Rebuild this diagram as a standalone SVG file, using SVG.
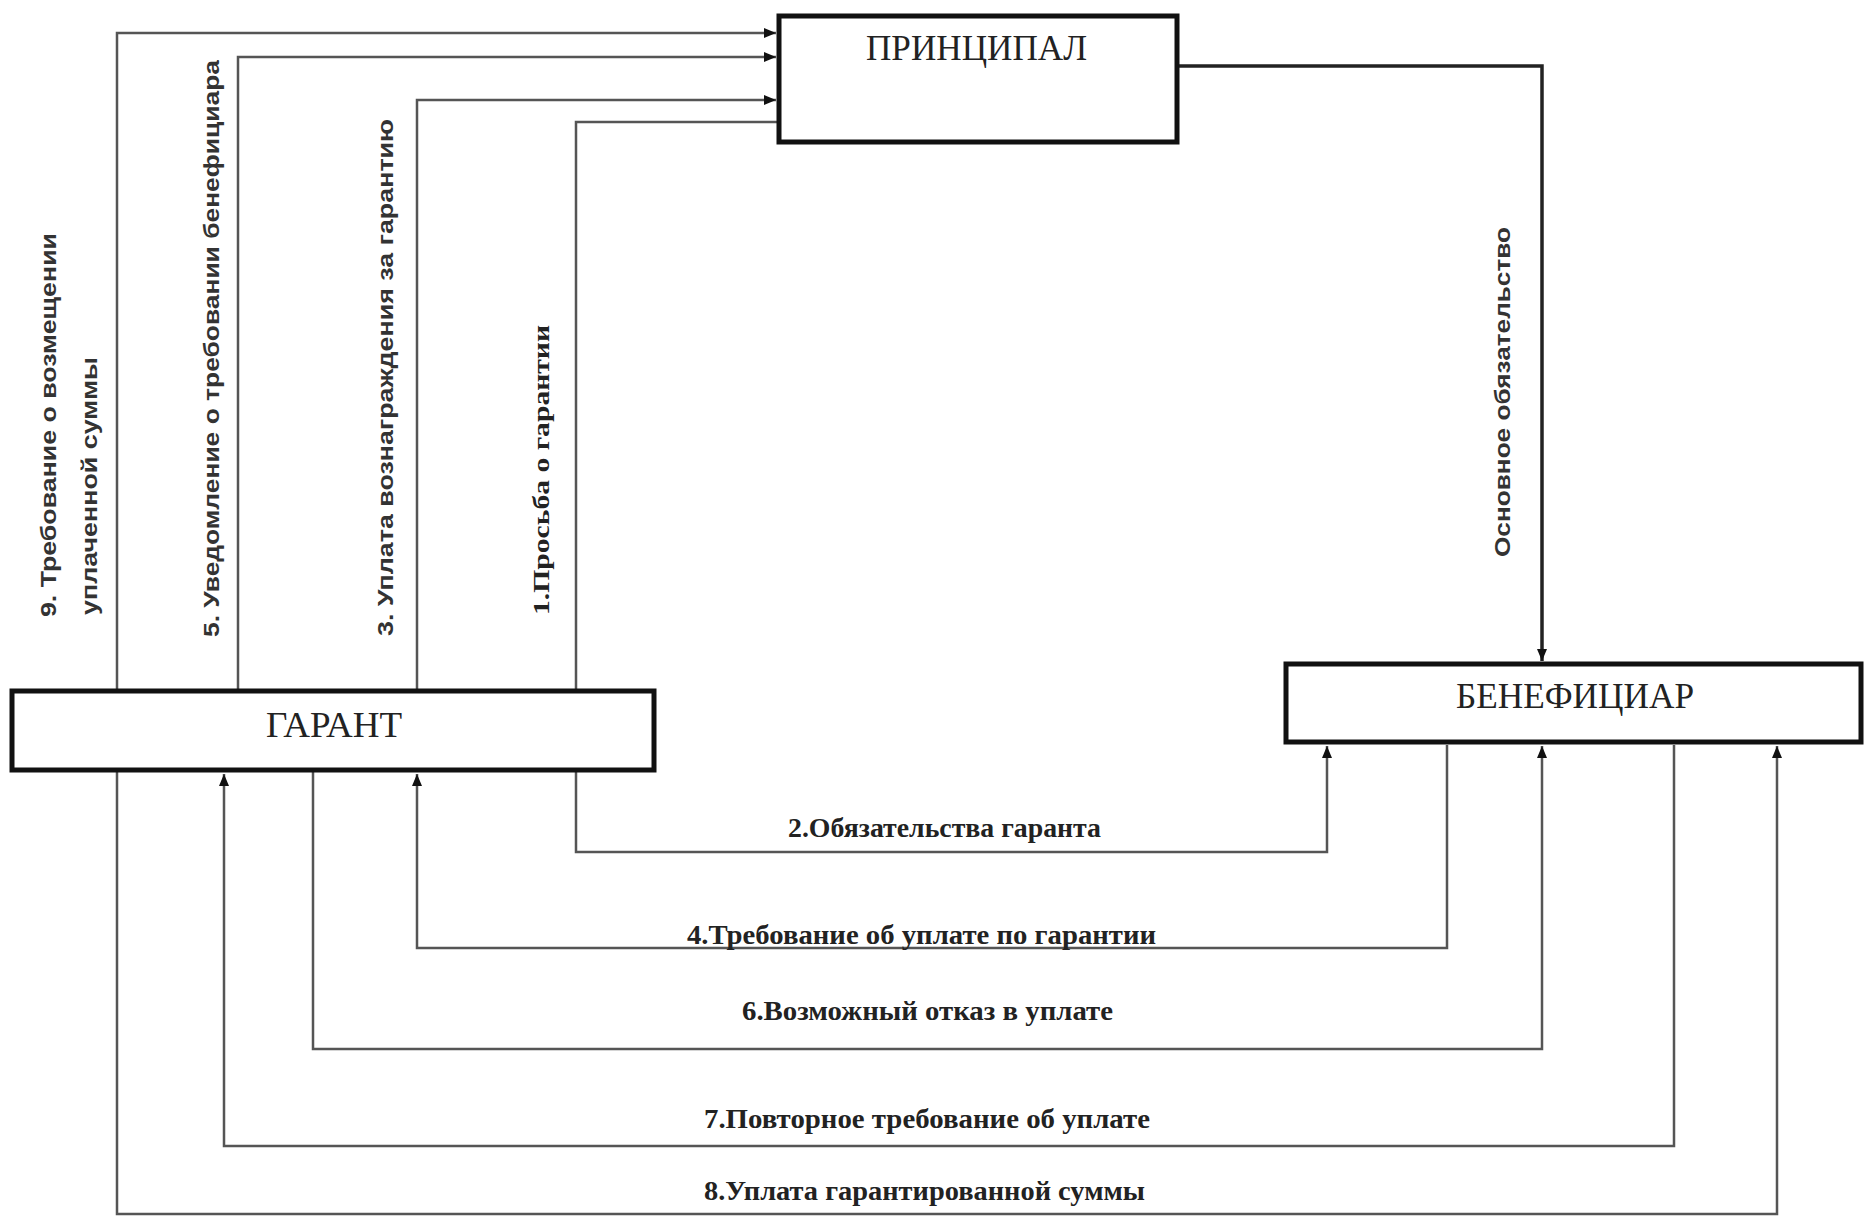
<svg xmlns="http://www.w3.org/2000/svg" width="1864" height="1216" viewBox="0 0 1864 1216">
<style>
.box{fill:#fff;stroke:#111;stroke-width:5}
.node{font-family:"Liberation Serif","Times New Roman",serif;font-size:36px;fill:#222}
.con{fill:none;stroke:#555;stroke-width:2.5}
.main{fill:none;stroke:#222;stroke-width:3.5}
.lbl{font-family:"Liberation Serif","Times New Roman",serif;font-weight:bold;font-size:28px;fill:#222}
.vs{font-family:"Liberation Sans",Arial,sans-serif;font-weight:bold;font-size:22px;fill:#333}
.vt{font-family:"Liberation Serif","Times New Roman",serif;font-weight:bold;font-size:24px;fill:#222}
</style>
<defs>
<marker id="arr" markerUnits="userSpaceOnUse" markerWidth="12" markerHeight="10" refX="12" refY="5" orient="auto">
<path d="M0,0 L12,5 L0,10 z" fill="#111"/>
</marker>
</defs>
<rect width="1864" height="1216" fill="#fff"/>
<g id="connectors">
<path class="con" d="M117,690 V33 H776" marker-end="url(#arr)"/>
<path class="con" d="M238,690 V57 H776" marker-end="url(#arr)"/>
<path class="con" d="M417,690 V100 H776" marker-end="url(#arr)"/>
<path class="con" d="M777,122 H576 V690"/>
<path class="con" d="M576,772 V852 H1327 V746" marker-end="url(#arr)"/>
<path class="main" d="M1179,66 H1542 V661" marker-end="url(#arr)"/>
<path class="con" d="M1447,745 V948 H417 V774" marker-end="url(#arr)"/>
<path class="con" d="M313,772 V1049 H1542 V746" marker-end="url(#arr)"/>
<path class="con" d="M1674,745 V1146 H224 V774" marker-end="url(#arr)"/>
<path class="con" d="M117,772 V1214 H1777 V746" marker-end="url(#arr)"/>
<text class="vs" x="56" y="617" transform="rotate(-90 56 617)" textLength="384" lengthAdjust="spacingAndGlyphs">9. Требование о возмещении</text>
<text class="vs" x="97" y="615" transform="rotate(-90 97 615)" textLength="258" lengthAdjust="spacingAndGlyphs">уплаченной суммы</text>
<text class="vs" x="219" y="637" transform="rotate(-90 219 637)" textLength="577" lengthAdjust="spacingAndGlyphs">5. Уведомление о требовании бенефициара</text>
<text class="vs" x="393" y="636" transform="rotate(-90 393 636)" textLength="517" lengthAdjust="spacingAndGlyphs">3. Уплата вознаграждения за гарантию</text>
<text class="vt" x="549" y="615" transform="rotate(-90 549 615)" textLength="290" lengthAdjust="spacingAndGlyphs">1.Просьба о гарантии</text>
<text class="vs" x="1510" y="557" transform="rotate(-90 1510 557)" textLength="330" lengthAdjust="spacingAndGlyphs">Основное обязательство</text>
<text class="lbl" x="788" y="837" textLength="313" lengthAdjust="spacingAndGlyphs">2.Обязательства гаранта</text>
<text class="lbl" x="687" y="944" textLength="469" lengthAdjust="spacingAndGlyphs">4.Требование об уплате по гарантии</text>
<text class="lbl" x="742" y="1020" textLength="371" lengthAdjust="spacingAndGlyphs">6.Возможный отказ в уплате</text>
<text class="lbl" x="704" y="1128" textLength="446" lengthAdjust="spacingAndGlyphs">7.Повторное требование об уплате</text>
<text class="lbl" x="704" y="1200" textLength="441" lengthAdjust="spacingAndGlyphs">8.Уплата гарантированной суммы</text>
</g>
<g id="principal">
<rect class="box" x="779" y="16" width="398" height="126" stroke-width="4"/>
<text class="node" x="866" y="60" textLength="221" lengthAdjust="spacingAndGlyphs">ПРИНЦИПАЛ</text>
</g>
<g id="garant">
<rect class="box" x="12" y="691" width="642" height="79"/>
<text class="node" x="266" y="737" textLength="136" lengthAdjust="spacingAndGlyphs">ГАРАНТ</text>
</g>
<g id="beneficiar">
<rect class="box" x="1286" y="664" width="575" height="78"/>
<text class="node" x="1456" y="708" textLength="238" lengthAdjust="spacingAndGlyphs">БЕНЕФИЦИАР</text>
</g>
</svg>
